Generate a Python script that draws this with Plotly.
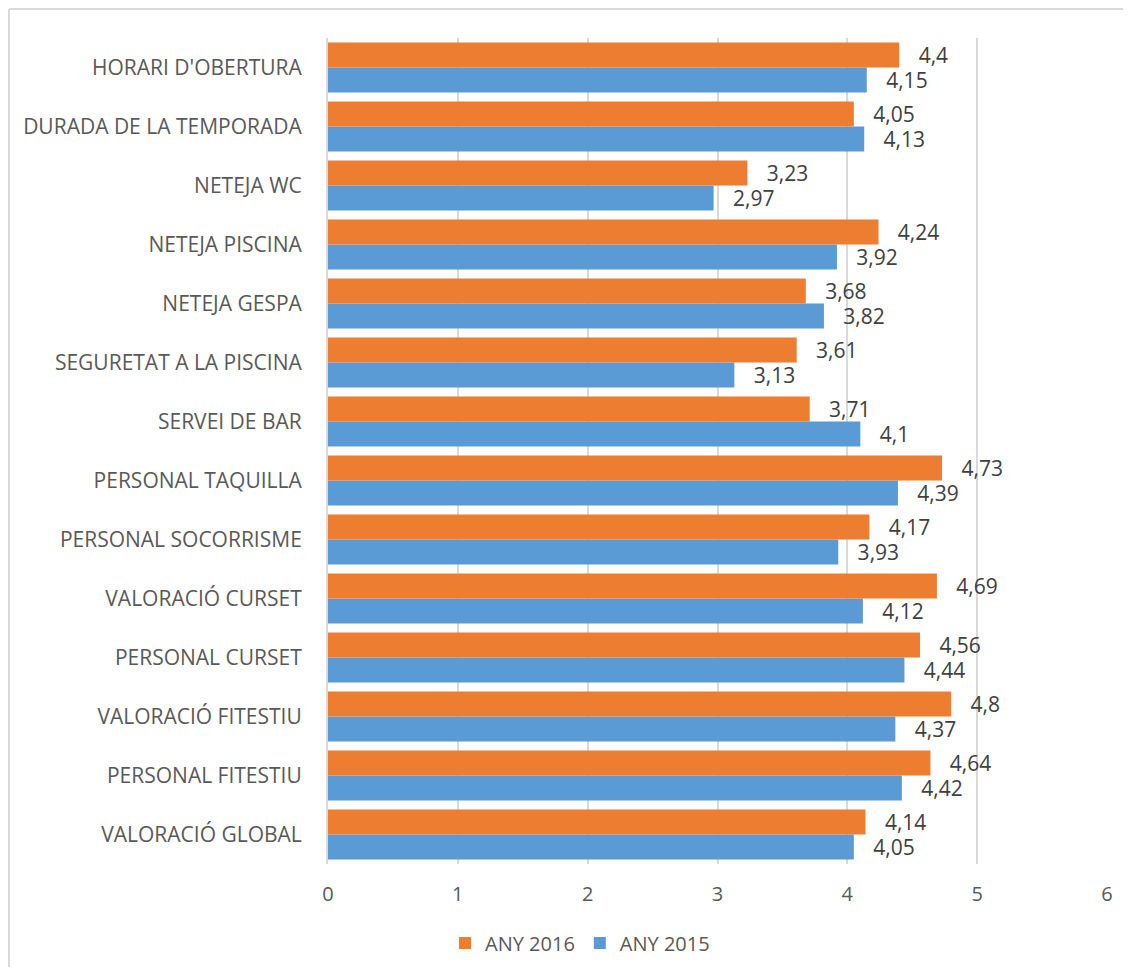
import plotly.graph_objects as go

categories = ["HORARI D'OBERTURA", "DURADA DE LA TEMPORADA", "NETEJA WC", "NETEJA PISCINA",
              "NETEJA GESPA", "SEGURETAT A LA PISCINA", "SERVEI DE BAR", "PERSONAL TAQUILLA",
              "PERSONAL SOCORRISME", "VALORACIÓ CURSET", "PERSONAL CURSET", "VALORACIÓ FITESTIU",
              "PERSONAL FITESTIU", "VALORACIÓ GLOBAL"]
any_2016 = [4.4, 4.05, 3.23, 4.24, 3.68, 3.61, 3.71, 4.73, 4.17, 4.69, 4.56, 4.8, 4.64, 4.14]
any_2015 = [4.15, 4.13, 2.97, 3.92, 3.82, 3.13, 4.1, 4.39, 3.93, 4.12, 4.44, 4.37, 4.42, 4.05]
x_ticks = [0, 1, 2, 3, 4, 5, 6]

def fmt(v):
    return f"{v:g}".replace(".", ",")

FONT = "Open Sans"
TXT = "#595959"
VAL = "#404040"

fig = go.Figure()
fig.add_trace(go.Bar(
    y=categories, x=any_2015, orientation="h", name="ANY 2015",
    marker=dict(color="#5B9BD5", line=dict(width=0)),
    text=[fmt(v) for v in any_2015], texttemplate="   %{text}", textposition="outside",
    constraintext="none",
    textfont=dict(size=21, color=VAL, family=FONT), cliponaxis=False, legendrank=2,
))
fig.add_trace(go.Bar(
    y=categories, x=any_2016, orientation="h", name="ANY 2016",
    marker=dict(color="#ED7D31", line=dict(width=0)),
    text=[fmt(v) for v in any_2016], texttemplate="   %{text}", textposition="outside",
    constraintext="none",
    textfont=dict(size=21, color=VAL, family=FONT), cliponaxis=False, legendrank=1,
))

W, H = 1115, 959
ml, mr, mt, mb = 320, 16, 30, 103
pw, ph = W - ml - mr, H - mt - mb

fig.update_layout(
    width=W, height=H,
    margin=dict(l=ml, r=mr, t=mt, b=mb, autoexpand=False),
    barmode="group", bargap=0.15, bargroupgap=0,
    paper_bgcolor="white", plot_bgcolor="white",
    font=dict(family=FONT, color=TXT, size=20),
    xaxis=dict(range=[0, 6], tickvals=x_ticks, showgrid=True, gridcolor="#D9D9D9", gridwidth=2,
               zeroline=False, showline=False, ticks="", tickfont=dict(size=20, color=TXT),
               ticklabelstandoff=16, fixedrange=True, automargin=False),
    yaxis=dict(categoryorder="array", categoryarray=categories[::-1], showgrid=False,
               ticks="", showline=True, linecolor="#D9D9D9", linewidth=2, automargin=False,
               tickfont=dict(size=21, color=TXT), ticklabelstandoff=20),
    legend=dict(orientation="h", x=(572 - ml) / pw, xanchor="center",
                y=-79 / ph, yanchor="middle",
                font=dict(size=20, color=TXT), traceorder="normal", itemwidth=30),
    showlegend=True,
)

# chart border (left and top edges)
x0 = (1 - ml) / pw
y0 = 1 + (mt - 1) / ph
ybot = -mb / ph
xright = 1 + mr / pw
fig.add_shape(type="line", xref="paper", yref="paper", x0=x0, x1=x0, y0=ybot, y1=y0,
              line=dict(color="#D9D9D9", width=2))
fig.add_shape(type="line", xref="paper", yref="paper", x0=x0, x1=xright, y0=y0, y1=y0,
              line=dict(color="#D9D9D9", width=2))

fig.write_html("out.html")
